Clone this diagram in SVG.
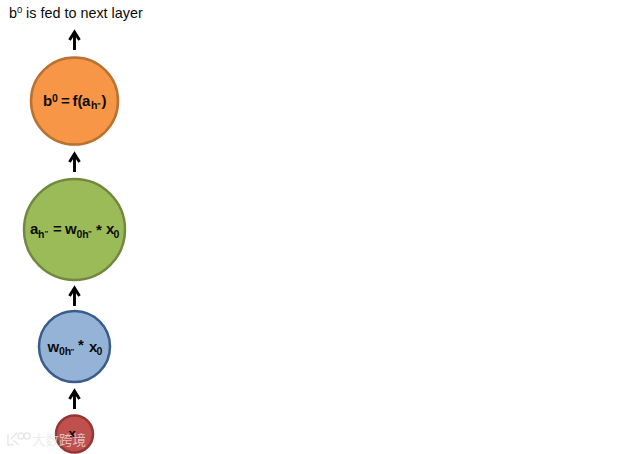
<svg xmlns="http://www.w3.org/2000/svg" width="640" height="454" viewBox="0 0 640 454">
<style>
text{font-family:"Liberation Sans",Arial,sans-serif;fill:#0b0b0b}
.n{font-size:15px;font-weight:700}
.s{font-size:10.500px;font-weight:700}
.t{font-size:8px;font-weight:700}
.c{stroke-width:2.5}
.a{fill:none;stroke:#000;stroke-width:2.900}
.w{fill:none;stroke:#e4e4e4;stroke-width:1.600;opacity:.85}
</style>
<rect width="640" height="454" fill="#fff"/>
<g id="connectors">
<path class="a" d="M74.500 50V32M69.500 40L74.500 32L79.500 40"/>
<path class="a" d="M74.500 172V154M69.500 162L74.500 154L79.500 162"/>
<path class="a" d="M74.500 306V288M69.500 296L74.500 288L79.500 296"/>
<path class="a" d="M74.500 409V391M69.500 399L74.500 391L79.500 399"/>
</g>
<g id="caption">
<text x="9" y="18" font-size="14.400">b</text><text x="17" y="13" font-size="9.500">0</text><text x="26" y="18" font-size="14.400">is fed to next layer</text>
</g>
<g id="node-output">
<circle class="c" cx="74.500" cy="101" r="43.500" fill="#f79646" stroke="#b9722f"/>
<text class="n" x="43" y="106">b</text><text class="s" x="52" y="102">0</text><text class="n" x="61" y="106">=</text><text class="n" x="72.500" y="106">f(</text><text class="n" x="82" y="106">a</text><text class="s" x="91" y="109">h</text><text class="t" x="97" y="108">"</text><text class="n" x="101.500" y="106">)</text>
</g>
<g id="node-activation">
<circle class="c" cx="74.500" cy="229.500" r="50.500" fill="#9bbb59" stroke="#71893f"/>
<text class="n" x="30" y="234">a</text><text class="s" x="38" y="237.500">h</text><text class="t" x="44.500" y="236">"</text><text class="n" x="53" y="234">=</text><text class="n" x="65" y="234">w</text><text class="s" x="76.500" y="237.500">0h</text><text class="t" x="88" y="236">"</text><text class="n" x="96" y="234.500">*</text><text class="n" x="106" y="234">x</text><text class="s" x="113.500" y="237.500">0</text>
</g>
<g id="node-weight">
<circle class="c" cx="74.500" cy="346.500" r="35.500" fill="#95b3d7" stroke="#385d8a"/>
<text class="n" x="47.500" y="352">w</text><text class="s" x="59" y="355">0h</text><text class="t" x="70.500" y="354">"</text><text class="n" x="78" y="350">*</text><text class="n" x="89" y="352">x</text><text class="s" x="96.500" y="355">0</text>
</g>
<g id="node-input">
<circle class="c" cx="74.500" cy="434" r="18.500" fill="#c0504d" stroke="#943634"/>
<text class="n" x="68.500" y="438" style="font-size:13px">x</text>
</g>
<g id="watermark">
<path class="w" d="M8 434V445H14M11 439L17 433M13 440L19 445"/>
<circle class="w" cx="21" cy="436" r="3"/><circle class="w" cx="27" cy="436" r="3"/>
<text x="32" y="445" font-size="13.500" style="font-family:'Noto Sans CJK SC',sans-serif;fill:#e8e8e8;opacity:.75">大数跨境</text>
</g>
</svg>
